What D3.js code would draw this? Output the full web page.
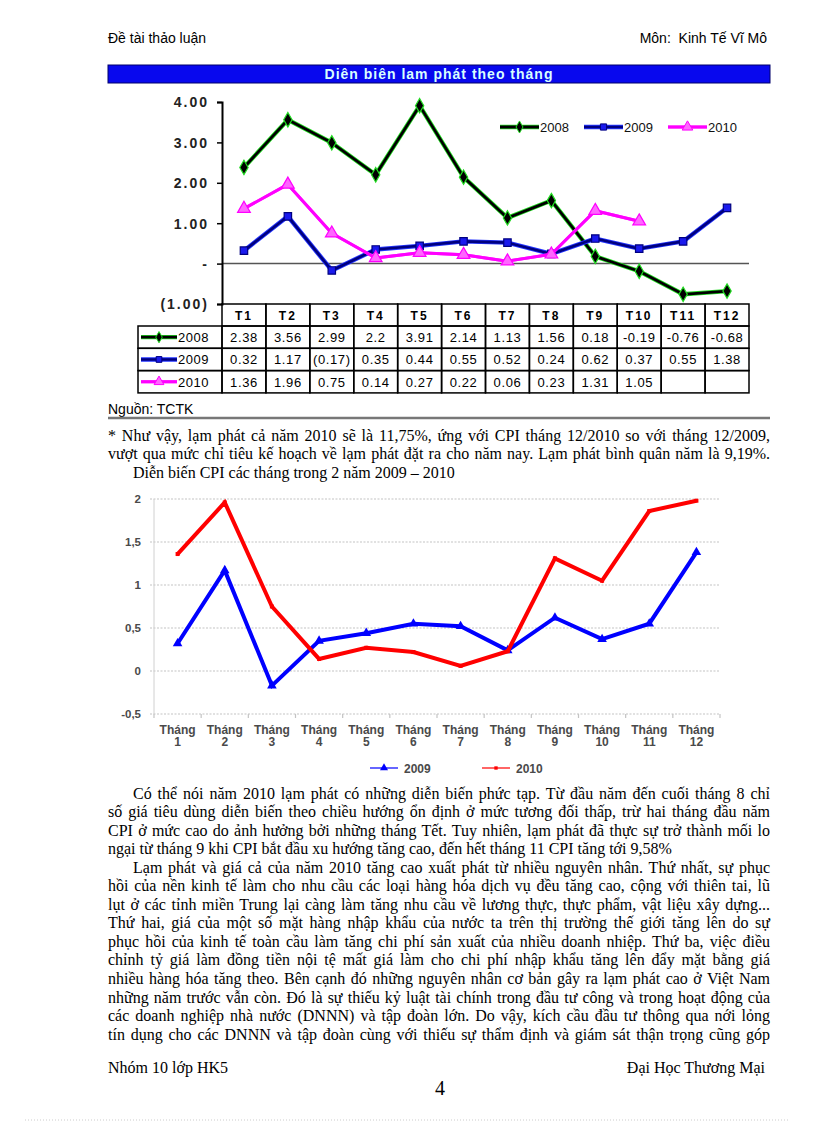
<!DOCTYPE html>
<html><head><meta charset="utf-8">
<script src="https://cdn.jsdelivr.net/npm/d3@7/dist/d3.min.js"></script>
<style>
body{margin:0;background:#fff;}
#page{position:relative;width:816px;height:1123px;overflow:hidden;background:#fff;}
#page svg{position:absolute;left:0;top:0;}
.ln{position:absolute;font-family:"Liberation Serif","Times New Roman",serif;font-size:16px;line-height:18px;white-space:nowrap;color:#000;}
.j{text-align:justify;text-align-last:justify;}
</style></head><body><div id="page"></div>
<script>
// ---------- DATA ----------
const months = ["T1","T2","T3","T4","T5","T6","T7","T8","T9","T10","T11","T12"];
const infl2008 = [2.38,3.56,2.99,2.2,3.91,2.14,1.13,1.56,0.18,-0.19,-0.76,-0.68];
const infl2009 = [0.32,1.17,-0.17,0.35,0.44,0.55,0.52,0.24,0.62,0.37,0.55,1.38];
const infl2010 = [1.36,1.96,0.75,0.14,0.27,0.22,0.06,0.23,1.31,1.05,null,null];
const table2008 = ["2.38","3.56","2.99","2.2","3.91","2.14","1.13","1.56","0.18","-0.19","-0.76","-0.68"];
const table2009 = ["0.32","1.17","(0.17)","0.35","0.44","0.55","0.52","0.24","0.62","0.37","0.55","1.38"];
const table2010 = ["1.36","1.96","0.75","0.14","0.27","0.22","0.06","0.23","1.31","1.05","",""];
const yTicks1 = [4,3,2,1,0,-1];
const yTickLabels1 = ["4.00","3.00","2.00","1.00","-","(1.00)"];
const seriesNames1 = ["2008","2009","2010"];

const cpiMonths = ["Tháng 1","Tháng 2","Tháng 3","Tháng 4","Tháng 5","Tháng 6","Tháng 7","Tháng 8","Tháng 9","Tháng 10","Tháng 11","Tháng 12"];
const cpi2009 = [0.32,1.17,-0.17,0.35,0.44,0.55,0.52,0.24,0.62,0.37,0.55,1.38];
const cpi2010 = [1.36,1.96,0.75,0.14,0.27,0.22,0.06,0.23,1.31,1.05,1.86,1.98];
const yTicks2 = [-0.5,0,0.5,1,1.5,2];
const yTickLabels2 = ["-0,5","0","0,5","1","1,5","2"];
const seriesNames2 = ["2009","2010"];

const para1 = [
 ["* Như vậy, lạm phát cả năm 2010 sẽ là 11,75%, ứng với CPI tháng 12/2010 so với tháng 12/2009,", 0, true],
 ["vượt qua mức chỉ tiêu kế hoạch về lạm phát đặt ra cho năm nay. Lạm phát bình quân năm là 9,19%.", 0, true],
 ["Diễn biến CPI các tháng trong 2 năm 2009 – 2010", 25, false]
];
const para2 = [
 ["Có thể nói năm 2010 lạm phát có những diễn biến phức tạp. Từ đầu năm đến cuối tháng 8 chỉ", 25, true],
 ["số giá tiêu dùng diễn biến theo chiều hướng ổn định ở mức tương đối thấp, trừ hai tháng đầu năm", 0, true],
 ["CPI ở mức cao do ảnh hưởng bởi những tháng Tết. Tuy nhiên, lạm phát đã thực sự trở thành mối lo", 0, true],
 ["ngại từ tháng 9 khi CPI bắt đầu xu hướng tăng cao, đến hết tháng 11 CPI tăng tới 9,58%", 0, false],
 ["Lạm phát và giá cả của năm 2010 tăng cao xuất phát từ nhiều nguyên nhân. Thứ nhất, sự phục", 25, true],
 ["hồi của nền kinh tế làm cho nhu cầu các loại hàng hóa dịch vụ đều tăng cao, cộng với thiên tai, lũ", 0, true],
 ["lụt ở các tỉnh miền Trung lại càng làm tăng nhu cầu về lương thực, thực phẩm, vật liệu xây dựng...", 0, true],
 ["Thứ hai, giá của một số mặt hàng nhập khẩu của nước ta trên thị trường thế giới tăng lên do sự", 0, true],
 ["phục hồi của kinh tế toàn cầu làm tăng chi phí sản xuất của nhiều doanh nhiệp. Thứ ba, việc điều", 0, true],
 ["chỉnh tỷ giá làm đồng tiền nội tệ mất giá làm cho chi phí nhập khẩu tăng lên đẩy mặt bằng giá", 0, true],
 ["nhiều hàng hóa tăng theo. Bên cạnh đó những nguyên nhân cơ bản gây ra lạm phát cao ở Việt Nam", 0, true],
 ["những năm trước vẫn còn. Đó là sự thiếu kỷ luật tài chính trong đầu tư công và trong hoạt động của", 0, true],
 ["các doanh nghiệp nhà nước (DNNN) và tập đoàn lớn. Do vậy, kích cầu đầu tư thông qua nới lỏng", 0, true],
 ["tín dụng cho các DNNN và tập đoàn cùng với thiếu sự thẩm định và giám sát thận trọng cũng góp", 0, true]
];

// ---------- PAGE ----------
const page = d3.select("#page");
const svg = page.append("svg").attr("width",816).attr("height",1123);
const sans = "'Liberation Sans', Arial, sans-serif";
const serif = "'Liberation Serif', 'Times New Roman', serif";

// header
svg.append("text").attr("x",108).attr("y",43).attr("font-family",sans).attr("font-size",14).text("Đề tài thảo luận");
svg.append("text").attr("x",767).attr("y",43).attr("text-anchor","end").attr("font-family",sans).attr("font-size",14).attr("xml:space","preserve").text("Môn:  Kinh Tế Vĩ Mô");

// title bar
svg.append("rect").attr("x",108).attr("y",65).attr("width",662).attr("height",18).attr("fill","#0808ee").attr("stroke","#00006a").attr("stroke-width",1);
svg.append("text").attr("x",439).attr("y",79).attr("text-anchor","middle").attr("font-family",sans).attr("font-weight","bold").attr("font-size",14).attr("letter-spacing",1).attr("fill","#d8ffff").text("Diên biên lam phát theo tháng");

// ---------- CHART 1 ----------
const x1 = d3.scaleBand().domain(months).range([222,749]);
const y1 = d3.scaleLinear().domain([-1,4]).range([304,102]);
const g1 = svg.append("g");

g1.append("line").attr("x1",222).attr("x2",749).attr("y1",y1(0)).attr("y2",y1(0)).attr("stroke","#555").attr("stroke-width",1.5);
const ax1 = d3.axisLeft(y1).tickValues(yTicks1).tickFormat((d,i)=>yTickLabels1[i]).tickSize(5).tickPadding(8);
const ay = g1.append("g").attr("transform","translate(222,0)").call(ax1);
ay.select(".domain").attr("stroke","#000").attr("stroke-width",2);
ay.selectAll(".tick line").attr("stroke","#000").attr("stroke-width",1.5);
ay.selectAll(".tick text").attr("font-family",sans).attr("font-size",14).attr("font-weight","bold").attr("letter-spacing",2).attr("fill","#222").attr("dy","0.35em");

const styles1 = {
 "2008": {halo:"#22dd22", core:"#000", w:2.8, hw:4.4, marker:d3.symbolDiamond, ms:60, fill:"#000", mstroke:"#22dd22"},
 "2009": {halo:"#2233ff", core:"#000080", w:2.6, hw:4.4, marker:d3.symbolSquare, ms:55, fill:"#1a1aee", mstroke:"#000080"},
 "2010": {halo:"#ff33ff", core:"#ff00ff", w:3, hw:3, marker:d3.symbolTriangle, ms:70, fill:"#ff66ff", mstroke:"#ff00ff"}
};
const data1 = {"2008":infl2008,"2009":infl2009,"2010":infl2010};
const line1 = d3.line().defined(d=>d.v!==null).x(d=>x1(d.m)+x1.bandwidth()/2).y(d=>y1(d.v));
seriesNames1.forEach(name=>{
  const s = styles1[name];
  const pts = months.map((m,i)=>({m, v:data1[name][i]}));
  g1.append("path").attr("d",line1(pts)).attr("fill","none").attr("stroke",s.halo).attr("stroke-width",s.hw).attr("stroke-linejoin","round");
  g1.append("path").attr("d",line1(pts)).attr("fill","none").attr("stroke",s.core).attr("stroke-width",s.w).attr("stroke-linejoin","round");
  g1.selectAll(null).data(pts.filter(d=>d.v!==null)).join("path")
    .attr("transform",d=>`translate(${x1(d.m)+x1.bandwidth()/2},${y1(d.v)})`)
    .attr("d",d3.symbol().type(s.marker).size(s.ms)).attr("fill",s.fill).attr("stroke",s.mstroke).attr("stroke-width",1.2);
});

const leg1X = {"2008":500,"2009":584,"2010":668};
seriesNames1.forEach(name=>{
  const s = styles1[name], lx = leg1X[name], ly = 127;
  const lg = g1.append("g");
  lg.append("line").attr("x1",lx).attr("x2",lx+39).attr("y1",ly).attr("y2",ly).attr("stroke",s.halo).attr("stroke-width",s.hw);
  lg.append("line").attr("x1",lx).attr("x2",lx+39).attr("y1",ly).attr("y2",ly).attr("stroke",s.core).attr("stroke-width",s.w);
  lg.append("path").attr("transform",`translate(${lx+19.5},${ly})`).attr("d",d3.symbol().type(s.marker).size(s.ms*0.7)).attr("fill",s.fill).attr("stroke",s.mstroke);
  lg.append("text").attr("x",lx+40).attr("y",ly+5).attr("font-family",sans).attr("font-size",13).attr("fill","#111").text(name);
});

// data table
const rowTop = 304, hdrH = 22, rowH = 22.3, tblLeft = 138;
const tg = svg.append("g");
months.forEach(m=>{
  tg.append("rect").attr("x",x1(m)).attr("y",rowTop).attr("width",x1.bandwidth()).attr("height",hdrH).attr("fill","none").attr("stroke","#000").attr("stroke-width",1.5);
  tg.append("text").attr("x",x1(m)+x1.bandwidth()/2).attr("y",rowTop+hdrH/2+5).attr("text-anchor","middle").attr("font-family",sans).attr("font-weight","bold").attr("font-size",12).attr("letter-spacing",2).text(m);
});
const tableRows = [table2008, table2009, table2010];
tableRows.forEach((row,r)=>{
  const ty = rowTop+hdrH+r*rowH;
  const name = seriesNames1[r], s = styles1[name];
  tg.append("rect").attr("x",tblLeft).attr("y",ty).attr("width",222-tblLeft).attr("height",rowH).attr("fill","none").attr("stroke","#000").attr("stroke-width",1.5);
  const cy = ty+rowH/2;
  tg.append("line").attr("x1",141).attr("x2",177).attr("y1",cy).attr("y2",cy).attr("stroke",s.halo).attr("stroke-width",s.hw);
  tg.append("line").attr("x1",141).attr("x2",177).attr("y1",cy).attr("y2",cy).attr("stroke",s.core).attr("stroke-width",s.w);
  tg.append("path").attr("transform",`translate(159,${cy})`).attr("d",d3.symbol().type(s.marker).size(s.ms*0.6)).attr("fill",s.fill).attr("stroke",s.mstroke);
  tg.append("text").attr("x",178).attr("y",cy+5).attr("font-family",sans).attr("font-size",13).attr("letter-spacing",0.5).text(name);
  months.forEach((m,i)=>{
    tg.append("rect").attr("x",x1(m)).attr("y",ty).attr("width",x1.bandwidth()).attr("height",rowH).attr("fill","none").attr("stroke","#000").attr("stroke-width",1.5);
    tg.append("text").attr("x",x1(m)+x1.bandwidth()/2).attr("y",cy+5).attr("text-anchor","middle").attr("font-family",sans).attr("font-size",13).attr("letter-spacing",0.6).text(row[i]);
  });
});

svg.append("text").attr("x",108).attr("y",414).attr("font-family",sans).attr("font-size",14).text("Nguồn: TCTK");
svg.append("line").attr("x1",108).attr("x2",770).attr("y1",418).attr("y2",418).attr("stroke","#777").attr("stroke-width",2.5);

// ---------- CHART 2 ----------
const x2 = d3.scaleBand().domain(cpiMonths).range([154,720]);
const y2 = d3.scaleLinear().domain([-0.5,2]).range([714,499]);
const g2 = svg.append("g");
g2.selectAll(null).data(yTicks2).join("line")
  .attr("x1",150).attr("x2",720).attr("y1",d=>y2(d)).attr("y2",d=>y2(d))
  .attr("stroke","#c4c4c4").attr("stroke-width",1.2).attr("stroke-dasharray","2,1.5");
g2.append("line").attr("x1",154).attr("x2",154).attr("y1",y2(2)).attr("y2",y2(-0.5)).attr("stroke","#d0d0d0").attr("stroke-width",1);
g2.selectAll(null).data(yTicks2).join("text")
  .attr("x",141).attr("y",d=>y2(d)+4).attr("text-anchor","end")
  .attr("font-family",sans).attr("font-size",11.5).attr("font-weight","bold").attr("fill","#4a4a4a")
  .text((d,i)=>yTickLabels2[i]);
g2.selectAll(null).data(cpiMonths.concat(["_end"])).join("line")
  .attr("x1",(d,i)=>154+i*x2.step()).attr("x2",(d,i)=>154+i*x2.step())
  .attr("y1",714).attr("y2",718).attr("stroke","#c4c4c4").attr("stroke-width",1.2);
cpiMonths.forEach(m=>{
  const parts = m.split(" ");
  const t = g2.append("text").attr("text-anchor","middle").attr("font-family",sans).attr("font-size",12).attr("font-weight","bold").attr("fill","#4a4a4a");
  t.append("tspan").attr("x",x2(m)+x2.bandwidth()/2).attr("y",734).text(parts[0]);
  t.append("tspan").attr("x",x2(m)+x2.bandwidth()/2).attr("y",746).text(parts[1]);
});
const styles2 = {
  "2009": {c:"#0000ff", marker:d3.symbolTriangle, ms:40},
  "2010": {c:"#ff0000", marker:d3.symbolSquare, ms:16}
};
const data2 = {"2009":cpi2009,"2010":cpi2010};
const line2 = d3.line().x(d=>x2(d.m)+x2.bandwidth()/2).y(d=>y2(d.v));
seriesNames2.forEach(name=>{
  const s = styles2[name];
  const pts = cpiMonths.map((m,i)=>({m,v:data2[name][i]}));
  g2.append("path").attr("d",line2(pts)).attr("fill","none").attr("stroke",s.c).attr("stroke-width",4).attr("stroke-linejoin","miter");
  g2.selectAll(null).data(pts).join("path")
    .attr("transform",d=>`translate(${x2(d.m)+x2.bandwidth()/2},${y2(d.v)})`)
    .attr("d",d3.symbol().type(s.marker).size(s.ms)).attr("fill",s.c);
});
const leg2X = {"2009":370,"2010":482};
seriesNames2.forEach(name=>{
  const s = styles2[name], lx = leg2X[name], ly = 768;
  g2.append("line").attr("x1",lx).attr("x2",lx+28).attr("y1",ly).attr("y2",ly).attr("stroke",s.c).attr("stroke-width",1.5).attr("opacity",0.8);
  g2.append("path").attr("transform",`translate(${lx+14},${ly})`).attr("d",d3.symbol().type(s.marker).size(s.ms*0.7)).attr("fill",s.c);
  g2.append("text").attr("x",lx+34).attr("y",ly+4.5).attr("font-family",sans).attr("font-size",12).attr("font-weight","bold").attr("fill","#4a4a4a").text(name);
});

// ---------- TEXT ----------
function addLines(lines, top0, step){
  lines.forEach((l,i)=>{
    page.append("div").attr("class","ln"+(l[2]?" j":""))
      .style("left",(108+l[1])+"px").style("top",(top0+i*step)+"px")
      .style("width",(662-l[1])+"px").text(l[0]);
  });
}
addLines(para1, 426.5, 18.5);
addLines(para2, 784.5, 18.55);

svg.append("text").attr("x",108).attr("y",1073).attr("font-family",serif).attr("font-size",16).text("Nhóm 10 lớp HK5");
svg.append("text").attr("x",765).attr("y",1073).attr("text-anchor","end").attr("font-family",serif).attr("font-size",16).text("Đại Học Thương Mại");
svg.append("text").attr("x",440).attr("y",1095).attr("text-anchor","middle").attr("font-family",serif).attr("font-size",20).text("4");
svg.append("line").attr("x1",25).attr("x2",790).attr("y1",1120).attr("y2",1120).attr("stroke","#ccc").attr("stroke-dasharray","1,2");
</script></body></html>
